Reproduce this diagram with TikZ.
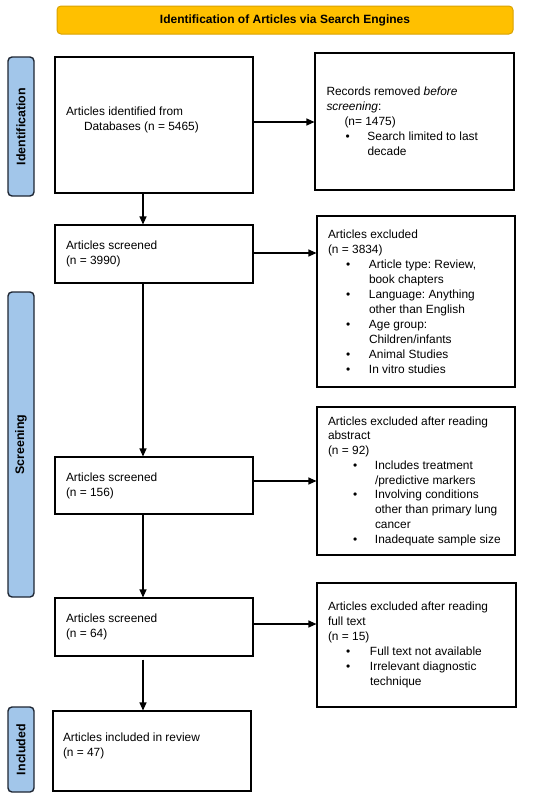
\documentclass[tikz,border=0pt]{standalone}
\usepackage{fontspec}
\setmainfont{Liberation Sans}
\usetikzlibrary{arrows.meta}
\definecolor{banfill}{HTML}{FFC000}
\definecolor{banline}{HTML}{D9A200}
\definecolor{tabfill}{HTML}{A2C6EA}
\definecolor{tabline}{HTML}{1E2633}
\frenchspacing
\newcommand\fs{\fontsize{11.9pt}{15pt}\selectfont\frenchspacing}
\newcommand\bul[3]{\hspace*{#1}\makebox[\dimexpr#2-#1\relax][l]{•}#3}
\begin{document}
\begin{tikzpicture}[x=1pt,y=-1pt,
  box/.style={draw, line width=1.1pt, inner xsep=11pt, inner ysep=0pt, align=flush left, font=\fs, anchor=center},
  tab/.style={draw=tabline, fill=tabfill, line width=1.4pt, rounded corners=4pt, rotate=90, minimum height=26pt, inner sep=0pt, font=\fontsize{12.4pt}{14pt}\selectfont\bfseries},
  arr/.style={-{Triangle[length=8pt,width=7pt]}, line width=1.1pt}]
\useasboundingbox (0,0) rectangle (550,798);
% banner
\node[draw=banline, fill=banfill, line width=1pt, rounded corners=4pt, minimum width=456pt, minimum height=28pt, inner sep=0pt, font=\fontsize{12pt}{14pt}\selectfont\bfseries] (ban) at (285,20) {Identification of Articles via Search Engines};
% tabs
\node[tab, minimum width=139pt] (t1) at (21,126.5) {Identification};
\node[tab, minimum width=305pt] (t2) at (21,444.5) {Screening};
\node[tab, minimum width=85pt] (t3) at (21,749.5) {Included};
% left boxes
\node[box, text width=176pt, minimum height=136pt] (b1) at (154,125) {Articles identified from\\\hspace*{18pt}Databases (n = 5465)\rule[-12pt]{0pt}{0pt}};
\node[box, text width=176pt, minimum height=58pt] (b2) at (154,254) {Articles screened\\(n = 3990)};
\node[box, text width=176pt, minimum height=57pt] (b3) at (154,485.5) {Articles screened\\(n = 156)};
\node[box, text width=176pt, minimum height=58pt] (b4) at (154,627) {Articles screened\\(n = 64)};
\node[box, text width=178pt, inner xsep=10pt, minimum height=80pt] (b5) at (152,751) {Articles included in review\\(n = 47)\rule[-12pt]{0pt}{0pt}};
% right boxes
\node[box, text width=176pt, inner xsep=11.5pt, minimum height=137pt] (r1) at (414.5,121.5) {Records removed \textit{before}\\\textit{screening}:\\\hspace*{18pt}(n= 1475)\\\bul{19pt}{41pt}{Search limited to last}\\\hspace*{41pt}decade};
\node[box, text width=176pt, minimum height=171pt] (r2) at (416,301.5) {Articles excluded\\(n = 3834)\\\bul{18pt}{41pt}{Article type: Review,}\\\hspace*{41pt}book chapters\\\bul{18pt}{41pt}{Language: Anything}\\\hspace*{41pt}other than English\\\bul{18pt}{41pt}{Age group:}\\\hspace*{41pt}Children/infants\\\bul{18pt}{41pt}{Animal Studies}\\\bul{18pt}{41pt}{In vitro studies}};
\node[box, text width=176pt, minimum height=148pt, font=\fontsize{11.9pt}{14.75pt}\selectfont\frenchspacing] (r3) at (416,481) {Articles excluded after reading\\abstract\\(n = 92)\\\bul{25pt}{47pt}{Includes treatment}\\\hspace*{47pt}/predictive markers\\\bul{25pt}{47pt}{Involving conditions}\\\hspace*{47pt}other than primary lung\\\hspace*{47pt}cancer\\\bul{25pt}{47pt}{Inadequate sample size}};
\node[box, text width=177pt, minimum height=124pt] (r4) at (416.5,645) {Articles excluded after reading\\full text\\(n = 15)\\\bul{18pt}{42pt}{Full text not available}\\\bul{18pt}{42pt}{Irrelevant diagnostic}\\\hspace*{42pt}technique};
% horizontal arrows
\draw[arr] ([yshift=3pt]b1.east) -- ([yshift=3pt]b1.east -| r1.west);
\draw[arr] ([yshift=1pt]b2.east) -- ([yshift=1pt]b2.east -| r2.west);
\draw[arr] ([yshift=4.5pt]b3.east) -- ([yshift=4.5pt]b3.east -| r3.west);
\draw[arr] ([yshift=3pt]b4.east) -- ([yshift=3pt]b4.east -| r4.west);
% vertical arrows
\draw[arr] ([xshift=-11pt]b1.south) -- ([xshift=-11pt]b2.north);
\draw[arr] ([xshift=-11pt]b2.south) -- ([xshift=-11pt]b3.north);
\draw[arr] ([xshift=-11pt]b3.south) -- ([xshift=-11pt]b4.north);
\draw[arr] ([xshift=-11pt,yshift=-3pt]b4.south) -- ([xshift=-11pt]b4.south |- b5.north);
\end{tikzpicture}
\end{document}
